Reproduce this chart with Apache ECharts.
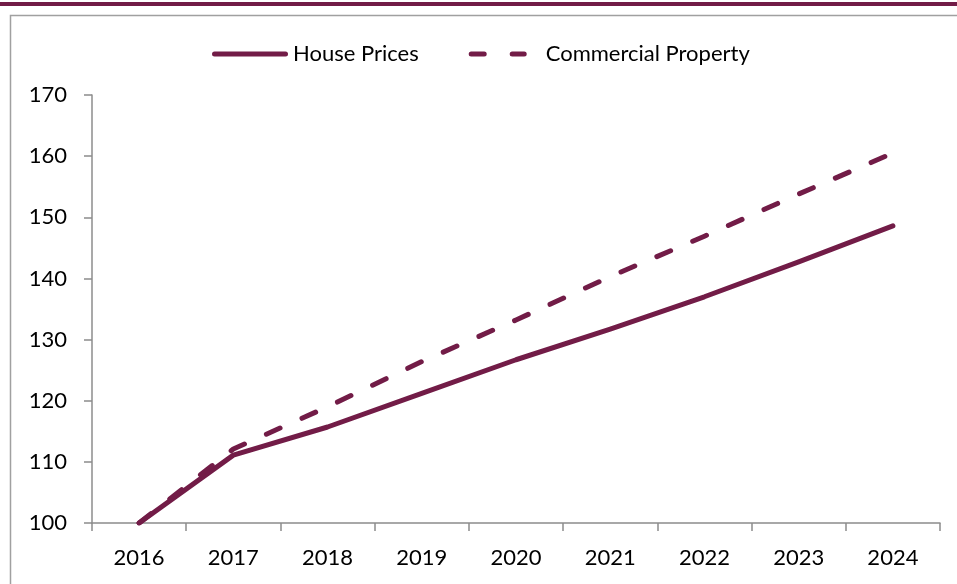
<!DOCTYPE html>
<html>
<head>
<meta charset="utf-8">
<script src="https://cdn.jsdelivr.net/npm/echarts@6/dist/echarts.min.js"></script>
<style>
  html, body { margin: 0; padding: 0; background: #fff; }
  #chart { width: 957px; height: 584px; }
</style>
</head>
<body>
<div id="chart"></div>
<script>
// data
var years = ['2016', '2017', '2018', '2019', '2020', '2021', '2022', '2023', '2024'];
var housePrices = [100, 111.1, 115.7, 121.2, 126.7, 131.7, 137.0, 142.7, 148.6];
var commercialProperty = [100, 112.1, 119.0, 126.4, 133.2, 140.3, 146.9, 153.8, 160.5];
var yTicks = { min: 100, max: 170, step: 10 };

var maroon = '#721c47';
var axisGrey = '#8c8c8c';
var font = 'Lato';

// legend icons drawn like the excel ones: a fat round-ended bar, and two dashes
var solidIcon = 'path://M2.5,0 H73.5 A2.5,2.5 0 0 1 73.5,5 H2.5 A2.5,2.5 0 0 1 2.5,0 Z';
var dashIcon = 'path://M0,2.5 L0.01,2.5 Z ' +
    'M6.5,0 H19.5 A2.5,2.5 0 0 1 19.5,5 H6.5 A2.5,2.5 0 0 1 6.5,0 Z ' +
    'M47.5,0 H59.5 A2.5,2.5 0 0 1 59.5,5 H47.5 A2.5,2.5 0 0 1 47.5,0 Z ' +
    'M75.99,2.5 L76,2.5 Z';

var chart = echarts.init(document.getElementById('chart'));

var option = {
    backgroundColor: '#fff',
    animation: false,
    textStyle: { fontFamily: font },
    graphic: [
        // maroon strip at the very top
        { type: 'rect', shape: { x: 0, y: 2, width: 957, height: 4 }, style: { fill: maroon } },
        // grey frame of the chart box
        { type: 'polyline', shape: { points: [[10.5, 584], [10.5, 15.5], [957, 15.5]] },
          style: { stroke: '#a0a0a0', lineWidth: 1.5, fill: null } }
    ],
    legend: {
        left: 207,
        top: 38,
        itemWidth: 76,
        itemHeight: 5,
        itemGap: 46,
        textStyle: { fontSize: 22, color: '#000', fontFamily: font },
        data: [
            { name: 'House Prices', icon: solidIcon },
            { name: 'Commercial Property', icon: dashIcon }
        ]
    },
    grid: { left: 92, right: 17, top: 95, bottom: 61 },
    xAxis: {
        type: 'category',
        data: years,
        boundaryGap: true,
        axisLine: { lineStyle: { color: axisGrey, width: 1.5 } },
        axisTick: { show: true, interval: 0, length: 8, lineStyle: { color: axisGrey, width: 1.5 } },
        axisLabel: { color: '#000', fontSize: 22, margin: 24, fontFamily: font },
        splitLine: { show: false }
    },
    yAxis: {
        type: 'value',
        min: yTicks.min,
        max: yTicks.max,
        interval: yTicks.step,
        axisLine: { show: true, lineStyle: { color: axisGrey, width: 1.5 } },
        axisTick: { show: true, length: 8, lineStyle: { color: axisGrey, width: 1.5 } },
        axisLabel: { color: '#000', fontSize: 22, margin: 25, fontFamily: font },
        splitLine: { show: false }
    },
    series: [
        {
            name: 'House Prices',
            type: 'line',
            data: housePrices,
            symbol: 'none',
            color: maroon,
            lineStyle: { color: maroon, width: 5, cap: 'round', join: 'round' }
        },
        {
            name: 'Commercial Property',
            type: 'line',
            data: commercialProperty,
            symbol: 'none',
            color: maroon,
            lineStyle: { color: maroon, width: 5, type: [15, 24], cap: 'round', join: 'round' }
        }
    ]
};

chart.setOption(option);
</script>
</body>
</html>
